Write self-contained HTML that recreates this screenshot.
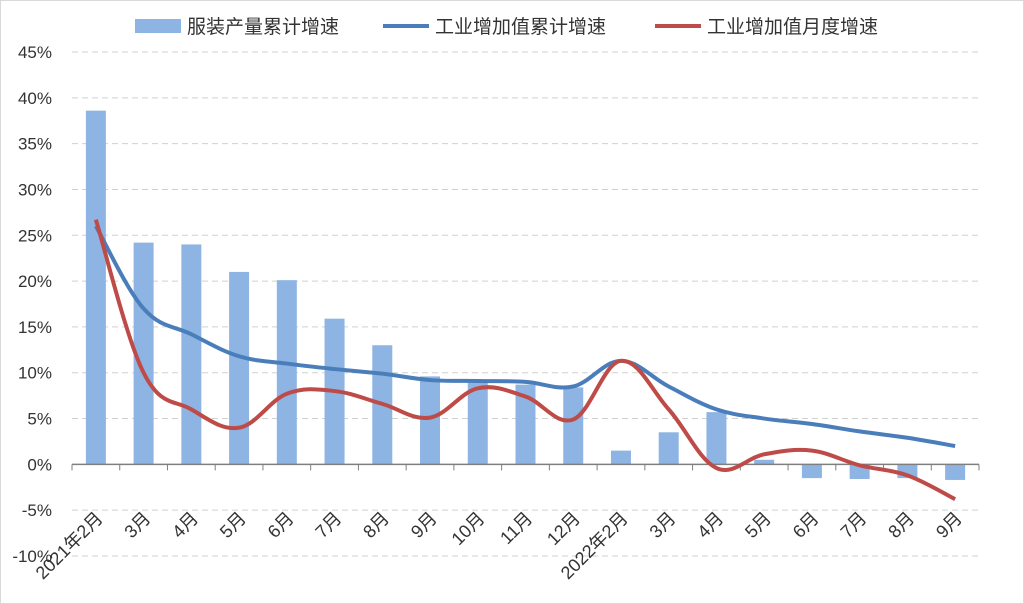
<!DOCTYPE html>
<html><head><meta charset="utf-8"><style>
body{margin:0;background:#fff;}
svg{display:block;font-family:"Liberation Sans","Noto Sans CJK SC",sans-serif;}
</style></head><body>
<svg id="c" width="1024" height="604">
<rect x="0.5" y="0.5" width="1023" height="603" fill="#fff" stroke="#d9d9d9"/>
</svg>
<script>
const categories=["2021年2月","3月","4月","5月","6月","7月","8月","9月","10月","11月","12月","2022年2月","3月","4月","5月","6月","7月","8月","9月"];
const garmentOutput=[38.6,24.2,24.0,21.0,20.1,15.9,13.0,9.6,8.9,8.7,8.4,1.5,3.5,5.7,0.5,-1.5,-1.6,-1.5,-1.7];
const industryCum=[26.0,17.0,14.2,11.8,11.0,10.4,9.9,9.2,9.1,9.0,8.5,11.3,8.5,6.0,5.0,4.4,3.6,2.9,2.0];
const industryMonth=[26.7,10.0,6.0,4.0,7.7,8.0,6.6,5.1,8.3,7.4,4.9,11.3,6.0,-0.4,1.1,1.5,-0.1,-1.2,-3.8];
const yTicks=[45,40,35,30,25,20,15,10,5,0,-5,-10];
const legendLabels=["服装产量累计增速","工业增加值累计增速","工业增加值月度增速"];

const svg=document.getElementById('c');const NS='http://www.w3.org/2000/svg';
const x0=72,x1=979,yTop=52,yBot=556,vMax=45,vMin=-10;
const band=(x1-x0)/categories.length;
const X=i=>x0+band*(i+0.5);
const Y=v=>yTop+(vMax-v)/(vMax-vMin)*(yBot-yTop);
function el(t,a,p){const e=document.createElementNS(NS,t);for(const k in a)e.setAttribute(k,a[k]);(p||svg).appendChild(e);return e;}
yTicks.forEach(v=>{
 if(v!==0){const g=el('line',{x1:x0,x2:x1,y1:Y(v),y2:Y(v),stroke:'#d0d0d0','stroke-dasharray':'6,4'});
 
 }
 const t=el('text',{x:x0-20,y:Y(v)+6,'text-anchor':'end','font-size':17,fill:'#333'});t.textContent=v+'%';
 
 
});
garmentOutput.forEach((v,i)=>{
 const b=el('rect',{x:X(i)-10,width:20,y:Math.min(Y(v),Y(0)),height:Math.abs(Y(v)-Y(0)),fill:'#8db4e2'});
 
 
});
const ax=el('line',{x1:x0,x2:x1,y1:Y(0),y2:Y(0),stroke:'#7f7f7f','stroke-width':1.5});


for(let i=0;i<=categories.length;i++){const tk=el('line',{x1:x0+band*i,x2:x0+band*i,y1:Y(0),y2:Y(0)+6,stroke:'#7f7f7f'});
 
 }
categories.forEach((c,i)=>{
 const tx=X(i)+8,ty=Y(0)+55;
 const t=el('text',{x:tx,y:ty,'text-anchor':'end','font-size':18,fill:'#333',transform:`rotate(-45 ${tx} ${ty})`});t.textContent=c;
 
 
});
function smooth(vals){const p=vals.map((v,i)=>[X(i),Y(v)]);let d=`M${p[0][0]},${p[0][1]}`;
 for(let i=0;i<p.length-1;i++){const a=p[i-1]||p[i],b=p[i],c=p[i+1],e=p[i+2]||c;const t=0.18;
 d+=` C${b[0]+(c[0]-a[0])*t},${b[1]+(c[1]-a[1])*t} ${c[0]-(e[0]-b[0])*t},${c[1]-(e[1]-b[1])*t} ${c[0]},${c[1]}`;}return d;}
const l1=el('path',{d:smooth(industryCum),fill:'none',stroke:'#4a7ebb','stroke-width':4});


const l2=el('path',{d:smooth(industryMonth),fill:'none',stroke:'#be4b48','stroke-width':4});


const lg=el('g',{});
[[135,'rect','#8db4e2'],[383,'line','#4a7ebb'],[655,'line','#be4b48']].forEach((d,i)=>{
 if(d[1]==='rect'){const r=el('rect',{x:d[0],y:19,width:46,height:14,fill:d[2]},lg);}
 else{const r=el('line',{x1:d[0],x2:d[0]+46,y1:26,y2:26,stroke:d[2],'stroke-width':4},lg);}
 const t=el('text',{x:d[0]+52,y:33,'font-size':19,fill:'#333'},lg);t.textContent=legendLabels[i];
 
 
});
</script>
</body></html>
